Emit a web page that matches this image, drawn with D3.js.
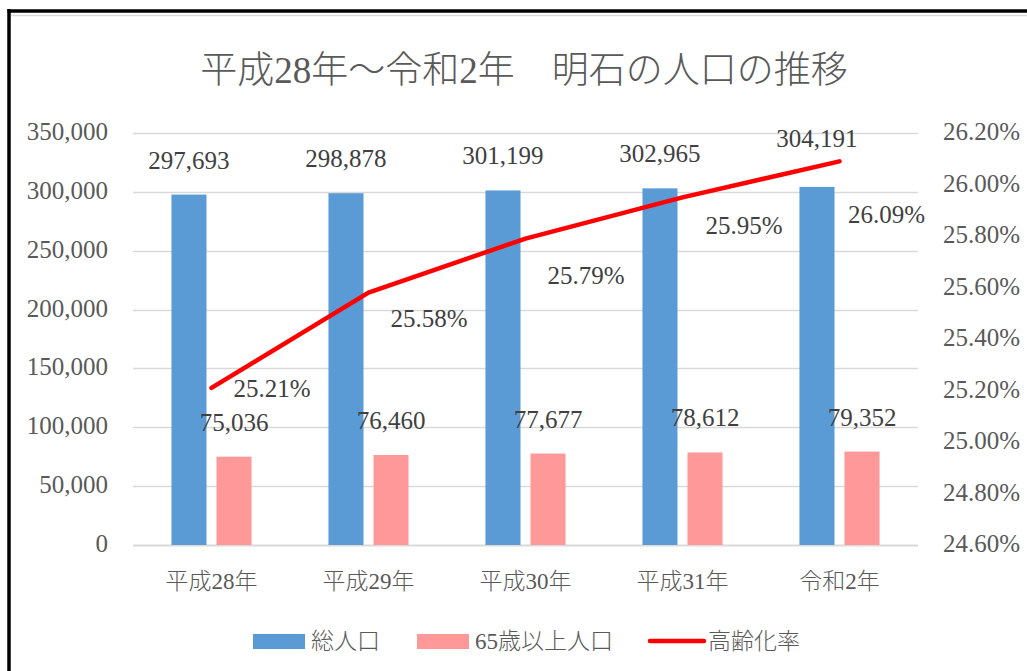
<!DOCTYPE html>
<html>
<head>
<meta charset="utf-8">
<script src="https://cdn.jsdelivr.net/npm/d3@7"></script>
<style>
  body { margin: 0; background: #fff; }
  svg { display: block; }
</style>
</head>
<body>
<div id="chart"></div>
<script>
// data
var categories = ["平成28年", "平成29年", "平成30年", "平成31年", "令和2年"];
var totalPop = [297693, 298878, 301199, 302965, 304191];
var elderPop = [75036, 76460, 77677, 78612, 79352];
var agingRate = [0.2521, 0.2558, 0.2579, 0.2595, 0.2609];
var leftTicks = [0, 50000, 100000, 150000, 200000, 250000, 300000, 350000];
var rightTicks = [0.246, 0.248, 0.250, 0.252, 0.254, 0.256, 0.258, 0.260, 0.262];
var seriesNames = ["総人口", "65歳以上人口", "高齢化率"];

// label nudges (moved by hand in the original)
var totalLabelShift = [0, 0, 0, 0, -14];
var rateLabelShift = [[0, 0], [0, 25], [0, 36], [1, 28], [-13.5, 53]];

var width = 1027, height = 671;
var numFont = "'Liberation Serif', 'Noto Sans CJK JP', serif";
var cjkFont = "'Liberation Serif', 'Noto Sans CJK JP', sans-serif";
var blue = "#5B9BD5", pink = "#FF9999", red = "#FF0000";

var svg = d3.select("#chart").append("svg")
    .attr("width", width)
    .attr("height", height);

// frame
svg.append("line")
    .attr("x1", 11).attr("x2", width)
    .attr("y1", 15.5).attr("y2", 15.5)
    .attr("stroke", "#d9d9d9").attr("stroke-width", 1.5);
svg.append("line")
    .attr("x1", 7.5).attr("x2", width)
    .attr("y1", 11).attr("y2", 11)
    .attr("stroke", "#000").attr("stroke-width", 3.5);
svg.append("line")
    .attr("x1", 9).attr("x2", 9)
    .attr("y1", 9).attr("y2", height)
    .attr("stroke", "#000").attr("stroke-width", 3.5);

// title
svg.append("text")
    .attr("x", 524)
    .attr("y", 83)
    .attr("text-anchor", "middle")
    .attr("font-family", cjkFont)
    .attr("font-size", 37)
    .attr("font-weight", 300)
    .attr("fill", "#595959")
    .text("平成28年～令和2年　明石の人口の推移");

var plotL = 133, plotR = 918, plotT = 133, plotB = 545;

var x0 = d3.scaleBand()
    .domain(categories)
    .range([plotL, plotR])
    .paddingInner(0.49)
    .paddingOuter(0.245);
var x1 = d3.scaleBand()
    .domain([0, 1])
    .range([0, x0.bandwidth()])
    .paddingInner(0.222);
var xc = d3.scalePoint()
    .domain(categories)
    .range([plotL, plotR])
    .padding(0.5);

var yL = d3.scaleLinear().domain([0, 350000]).range([plotB, plotT]);
var yR = d3.scaleLinear().domain([0.246, 0.262]).range([plotB, plotT]);

// gridlines
svg.append("g")
    .selectAll("line")
    .data(leftTicks)
    .enter()
    .append("line")
    .attr("x1", plotL).attr("x2", plotR)
    .attr("y1", d => Math.round(yL(d)) + 0.5)
    .attr("y2", d => Math.round(yL(d)) + 0.5)
    .attr("stroke", "#d9d9d9")
    .attr("stroke-width", d => d == 0 ? 2 : 1.5);

// left axis labels
var fmt = d3.format(",");
svg.append("g")
    .selectAll("text")
    .data(leftTicks)
    .enter()
    .append("text")
    .attr("x", 108)
    .attr("y", d => yL(d) + 7)
    .attr("text-anchor", "end")
    .attr("font-family", numFont)
    .attr("font-size", 25)
    .attr("fill", "#595959")
    .text(d => fmt(d));

// right axis labels
svg.append("g")
    .selectAll("text")
    .data(rightTicks)
    .enter()
    .append("text")
    .attr("x", 943)
    .attr("y", d => yR(d) + 7)
    .attr("font-family", numFont)
    .attr("font-size", 25)
    .attr("fill", "#595959")
    .text(d => d3.format(".2%")(d));

// category labels
svg.append("g")
    .selectAll("text")
    .data(categories)
    .enter()
    .append("text")
    .attr("x", d => xc(d))
    .attr("y", 589)
    .attr("text-anchor", "middle")
    .attr("font-family", cjkFont)
    .attr("font-size", 23)
    .attr("font-weight", 300)
    .attr("fill", "#595959")
    .text(d => d);

// bars
var barData = [];
categories.forEach((c, i) => {
    barData.push({ cat: c, s: 0, v: totalPop[i], i: i });
    barData.push({ cat: c, s: 1, v: elderPop[i], i: i });
});

svg.append("g")
    .selectAll("rect")
    .data(barData)
    .enter()
    .append("rect")
    .attr("x", d => x0(d.cat) + x1(d.s))
    .attr("y", d => yL(d.v))
    .attr("width", x1.bandwidth())
    .attr("height", d => yL(0) - yL(d.v))
    .attr("fill", d => d.s == 0 ? blue : pink);

svg.append("g")
    .selectAll("text")
    .data(barData)
    .enter()
    .append("text")
    .attr("x", d => x0(d.cat) + x1(d.s) + x1.bandwidth() / 2)
    .attr("y", d => yL(d.v) - 26 + (d.s == 0 ? totalLabelShift[d.i] : 0))
    .attr("text-anchor", "middle")
    .attr("font-family", numFont)
    .attr("font-size", 25)
    .attr("fill", "#404040")
    .text(d => fmt(d.v));

// aging rate line
var line = d3.line()
    .x((d, i) => xc(categories[i]))
    .y(d => yR(d));

svg.append("path")
    .datum(agingRate)
    .attr("d", line)
    .attr("fill", "none")
    .attr("stroke", red)
    .attr("stroke-width", 4.5)
    .attr("stroke-linecap", "round")
    .attr("stroke-linejoin", "round");

svg.append("g")
    .selectAll("text")
    .data(agingRate)
    .enter()
    .append("text")
    .attr("x", (d, i) => xc(categories[i]) + 22 + rateLabelShift[i][0])
    .attr("y", (d, i) => yR(d) + 9 + rateLabelShift[i][1])
    .attr("font-family", numFont)
    .attr("font-size", 25)
    .attr("fill", "#404040")
    .text(d => d3.format(".2%")(d));

// legend
var legend = svg.append("g");
var lx = 253, ly = 641;
seriesNames.forEach((name, i) => {
    if (i < 2) {
        legend.append("rect")
            .attr("x", lx).attr("y", ly - 7)
            .attr("width", 52).attr("height", 15)
            .attr("fill", i == 0 ? blue : pink);
    } else {
        legend.append("line")
            .attr("x1", lx).attr("x2", lx + 54)
            .attr("y1", ly).attr("y2", ly)
            .attr("stroke", red)
            .attr("stroke-width", 4.5)
            .attr("stroke-linecap", "round");
    }
    var t = legend.append("text")
        .attr("x", lx + 58)
        .attr("y", ly + 8)
        .attr("font-family", cjkFont)
        .attr("font-size", 23)
        .attr("font-weight", 300)
        .attr("fill", "#595959")
        .text(name);
    lx = lx + 58 + t.node().getComputedTextLength() + 37;
});
</script>
</body>
</html>
